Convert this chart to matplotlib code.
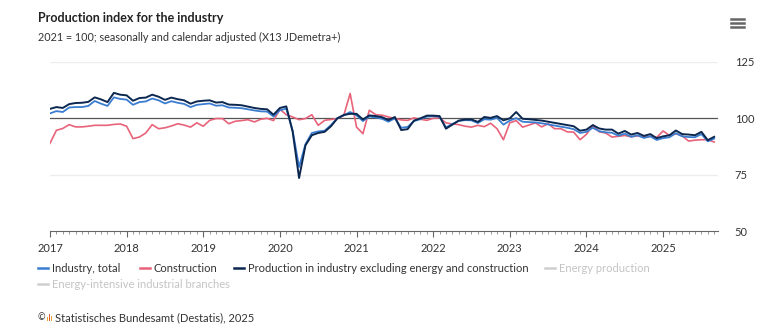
import matplotlib
matplotlib.use("Agg")
import matplotlib.pyplot as plt
from matplotlib.lines import Line2D
from matplotlib.patches import Rectangle
import numpy as np

# Monthly data, Jan 2017 .. Sep 2025 (2021 = 100)
start_year = 2017
industry_total = [
    102.2, 103.2, 102.8, 104.8, 105.0, 105.0, 105.5, 107.7, 106.5, 105.5, 109.3, 108.6,
    108.3, 106.0, 107.2, 107.5, 108.8, 108.0, 106.6, 107.6, 106.9, 106.4, 105.0, 106.0,
    106.3, 106.6, 105.6, 105.8, 104.8, 104.7, 104.5, 104.0, 103.5, 103.1, 103.0, 100.8,
    103.6, 104.3, 94.5, 78.4, 88.5, 93.5, 94.2, 94.5, 97.0, 100.1, 101.3, 102.8,
    101.3, 98.8, 100.8, 100.4, 99.8, 98.5, 100.0, 95.8, 96.2, 98.8, 99.6, 100.8,
    100.9, 100.7, 96.0, 97.5, 98.8, 99.2, 99.1, 97.9, 99.6, 99.4, 100.2, 97.2,
    99.0, 100.1, 98.5, 98.3, 98.2, 97.8, 97.3, 96.8, 96.3, 95.8, 95.2, 93.5,
    94.0, 95.8, 94.3, 93.8, 93.6, 92.3, 93.2, 91.8, 92.5, 91.3, 92.0, 90.4,
    91.2, 91.6, 93.4, 92.0, 91.7, 91.6, 93.0, 89.8, 91.0,
]
construction = [
    88.9, 94.7, 95.5, 97.2, 96.2, 96.2, 96.5, 96.9, 96.9, 96.9, 97.3, 97.5,
    96.5, 91.0, 91.7, 93.5, 97.2, 95.4, 95.8, 96.6, 97.6, 97.0, 96.1, 98.0,
    96.5, 99.1, 99.9, 99.9, 97.6, 98.7, 99.0, 99.4, 98.4, 99.6, 100.0, 99.0,
    104.0, 101.6, 100.6, 99.4, 99.9, 101.6, 96.9, 99.1, 99.5, 99.9, 101.3, 111.0,
    96.1, 93.2, 103.6, 101.6, 101.4, 100.6, 99.9, 99.3, 99.1, 100.2, 99.6, 99.1,
    100.0, 100.2, 98.0, 97.5, 97.2, 96.5, 96.1, 96.9, 96.3, 97.8, 95.4, 90.5,
    98.0, 99.0, 96.1, 97.0, 98.0, 96.2, 97.6, 95.4, 95.4, 94.0, 93.9, 90.5,
    92.9, 96.9, 94.0, 93.5, 91.7, 92.0, 92.4, 91.8, 92.2, 91.7, 92.0, 91.5,
    94.4, 92.4, 93.2, 92.2, 89.9, 90.3, 90.5, 90.5, 89.5,
]
excl_energy_construction = [
    104.2, 105.0, 104.6, 106.3, 106.8, 106.9, 107.3, 109.3, 108.4, 107.2, 111.3, 110.5,
    110.2, 107.8, 109.0, 109.2, 110.5, 109.6, 108.2, 109.2, 108.5, 108.0, 106.5, 107.5,
    107.8, 108.0, 107.0, 107.2, 106.1, 106.0, 105.8, 105.2, 104.6, 104.2, 104.0, 101.6,
    104.6, 105.3, 94.0, 73.5, 88.0, 92.5, 93.5, 94.0, 96.5, 100.0, 101.5, 102.0,
    102.0, 99.5, 101.3, 101.0, 100.5, 99.2, 100.6, 94.8, 95.2, 99.0, 100.0, 101.2,
    101.2, 101.0, 95.4, 97.2, 99.0, 99.5, 99.5, 98.4, 100.6, 100.2, 101.0, 99.1,
    100.0, 102.8, 99.8, 99.6, 99.3, 99.0, 98.5, 98.0, 97.5, 97.0, 96.5, 94.5,
    95.0, 97.0, 95.5, 95.0, 95.0, 93.2, 94.4, 92.8, 93.5, 92.2, 93.0, 91.2,
    92.0, 92.5, 94.6, 93.0, 92.8, 92.5, 94.0, 90.3, 91.8,
]
year_labels = ["2017", "2018", "2019", "2020", "2021", "2022", "2023", "2024", "2025"]
y_ticks = [50, 75, 100, 125]

legend_labels = ["Industry, total", "Construction",
                 "Production in industry excluding energy and construction",
                 "Energy production", "Energy-intensive industrial branches"]

C_BLUE = "#3a7dd0"
C_RED = "#e8637a"
C_DARK = "#0c2850"
C_GREY = "#cfcfcf"
C_TEXT = "#333333"

plt.rcParams['font.family'] = ['Lato', 'DejaVu Sans']

W, H = 784, 329
fig = plt.figure(figsize=(W / 100, H / 100), dpi=100)
fig.patch.set_facecolor("white")

def fx(px):
    return px / W

def fy(py):
    return 1 - py / H

ax = fig.add_axes([fx(50), fy(231), fx(718) - fx(50), fy(62) - fy(231)])
x = np.arange(len(industry_total))

for yv in [75, 125]:
    ax.axhline(yv, color="#ededed", lw=1.0, zorder=1)
ax.axhline(100, color="#555555", lw=0.9, zorder=1)

ax.plot(x, construction, color=C_RED, lw=1.2, zorder=3)
ax.plot(x, industry_total, color=C_BLUE, lw=1.3, zorder=4)
ax.plot(x, excl_energy_construction, color=C_DARK, lw=1.4, zorder=5)

ax.set_xlim(0, 104.6)
ax.set_ylim(50, 125)

for s in ["top", "left", "right"]:
    ax.spines[s].set_visible(False)
ax.spines["bottom"].set_color("#666666")
ax.spines["bottom"].set_linewidth(0.8)

ax.set_xticks(np.arange(len(year_labels)) * 12)
ax.set_xticklabels(year_labels, fontsize=8, color=C_TEXT)
ax.set_xticks(np.arange(0, 105), minor=True)
ax.tick_params(axis="x", which="major", length=4, width=0.8, color="#666666", pad=5)
ax.tick_params(axis="x", which="minor", length=2.5, width=0.6, color="#888888")

ax.yaxis.tick_right()
ax.set_yticks(y_ticks)
ax.set_yticklabels([str(v) for v in y_ticks], fontsize=8, color=C_TEXT)
ax.tick_params(axis="y", length=0, pad=12)

# Titles
fig.text(fx(38), fy(18), "Production index for the industry", fontsize=9,
         fontweight="bold", color="#222222", va="center", ha="left")
fig.text(fx(38), fy(37), "2021 = 100; seasonally and calendar adjusted (X13 JDemetra+)",
         fontsize=7.8, color=C_TEXT, va="center", ha="left")

# Hamburger menu icon
for yy in [19, 23, 27]:
    fig.add_artist(Line2D([fx(731), fx(744)], [fy(yy), fy(yy)], color="#666666", lw=1.8))

# Legend
legend_items = [
    (38, 268, C_BLUE, legend_labels[0], C_TEXT),
    (140, 268, C_RED, legend_labels[1], C_TEXT),
    (234, 268, C_DARK, legend_labels[2], C_TEXT),
    (545, 268, C_GREY, legend_labels[3], "#c4c4c4"),
    (38, 284, C_GREY, legend_labels[4], "#c4c4c4"),
]
for px, py, col, lab, tcol in legend_items:
    fig.add_artist(Line2D([fx(px), fx(px + 10)], [fy(py), fy(py)], color=col, lw=1.8))
    fig.text(fx(px + 14), fy(py), lab, fontsize=8, color=tcol, va="center", ha="left")

# Footer
fig.text(fx(38), fy(318), "\u00a9", fontsize=6.5, color=C_TEXT, va="center", ha="left")
for i, (hh, col) in enumerate([(4, "#f0a030"), (7, "#e05a2a"), (5, "#f0a030")]):
    fig.add_artist(Rectangle((fx(47 + i * 2), fy(321)), fx(1.4), hh / H, color=col, lw=0))
fig.text(fx(55), fy(318), "Statistisches Bundesamt (Destatis), 2025", fontsize=8,
         color=C_TEXT, va="center", ha="left")

fig.savefig("out.png", dpi=100, facecolor="white")
